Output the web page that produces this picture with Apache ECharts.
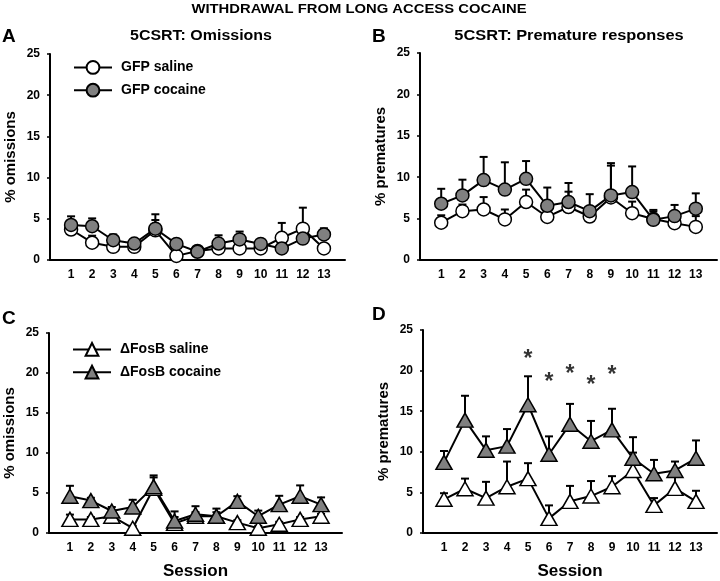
<!DOCTYPE html>
<html>
<head>
<meta charset="utf-8">
<script src="https://cdn.jsdelivr.net/npm/echarts@6/dist/echarts.min.js"></script>
<style>
html,body{margin:0;padding:0;background:#fff;}
#chart{width:720px;height:581px;}
</style>
</head>
<body>
<div id="chart"></div>
<script>
// ---- data ----
const sessions = [1,2,3,4,5,6,7,8,9,10,11,12,13];
const yTicks = [0,5,10,15,20,25];

// Panel A: omissions (GFP)
const gfpSalineOm     = [3.7,2.1,1.6,1.6,3.6,0.5,1.1,1.4,1.4,1.4,2.7,3.8,1.4];
const gfpSalineOmSem  = [0.4,0.85,0.3,0.3,1.25,0.3,0.2,0.3,0.3,0.3,1.8,2.55,0.3];
const gfpCocaineOm    = [4.25,4.1,2.4,2.0,3.8,1.95,1.0,2.0,2.5,1.95,1.4,2.6,3.1];
const gfpCocaineOmSem = [1.05,0.95,0.7,0.3,1.75,0.3,0.3,1.0,0.95,0.3,0.3,0.4,0.75];

// Panel B: premature responses (GFP)
const gfpSalinePr     = [4.5,5.9,6.1,4.9,7.0,5.2,6.4,5.25,7.55,5.65,4.95,4.45,4.0];
const gfpSalinePrSem  = [0.9,0.8,1.5,1.2,1.5,0.9,1.85,0.8,3.85,1.4,0.9,0.5,1.3];
const gfpCocainePr    = [6.8,7.8,9.65,8.5,9.8,6.55,7.0,5.9,7.8,8.2,4.85,5.3,6.2];
const gfpCocainePrSem = [1.8,1.9,2.8,3.3,2.15,2.2,2.3,2.05,3.9,3.1,1.2,1.35,1.85];

// Panel C: omissions (ΔFosB)
const fosSalineOm     = [1.7,1.7,2.1,0.6,5.6,1.2,2.1,2.1,1.3,0.6,1.1,1.7,2.1];
const fosSalineOmSem  = [0.6,0.3,0.3,0.3,1.35,0.8,0.5,0.5,0.3,0.3,0.3,0.3,0.3];
const fosCocaineOm    = [4.6,4.05,2.75,3.25,5.8,1.5,2.35,2.1,3.95,2.1,3.55,4.6,3.55];
const fosCocaineOmSem = [1.3,0.35,0.5,0.9,1.4,1.2,1.0,0.95,0.65,0.7,1.1,1.35,0.9];

// Panel D: premature responses (ΔFosB)
const fosSalinePr     = [4.15,5.45,4.3,5.7,6.7,1.8,3.9,4.55,5.7,7.7,3.4,5.5,3.9];
const fosSalinePrSem  = [0.75,1.25,2.0,3.1,1.9,1.6,1.9,1.85,1.3,2.2,0.9,2.0,1.3];
const fosCocainePr    = [8.7,13.9,10.2,10.7,15.8,9.7,13.4,11.3,12.7,9.2,7.3,7.7,9.2];
const fosCocainePrSem = [1.4,3.0,1.7,2.1,3.5,2.2,2.5,2.5,2.6,2.6,1.7,1.1,2.2];

// significance asterisks in panel D
const starSessions = [5,6,7,8,9];
const starY        = [22.1,19.3,20.2,18.9,20.1];

// ---- chart ----
const FONT = 'Arial, "Liberation Sans", sans-serif';
const GRAY = '#808080';

const grids = [
  {left:50,  top:54,  width:295, height:206},
  {left:420, top:53,  width:298, height:207},
  {left:49,  top:333, width:293, height:204},
  {left:423, top:330, width:295, height:207}
];
const yNames = ['% omissions','% prematures','% omissions','% prematures'];

function xAxisCfg(i){
  return {
    type:'value', gridIndex:i, min:0, max:14, interval:1,
    axisLine:{lineStyle:{color:'#000', width:2}},
    axisTick:{show:false},
    splitLine:{show:false},
    axisLabel:{fontFamily:FONT, fontWeight:'bold', fontSize:12, color:'#000', margin:9,
      formatter:v => sessions.includes(v) ? String(v) : ''},
    name: i >= 2 ? 'Session' : '',
    nameLocation:'middle', nameGap:30,
    nameTextStyle:{fontFamily:FONT, fontWeight:'bold', fontSize:17, color:'#000'}
  };
}
function yAxisCfg(i){
  return {
    type:'value', gridIndex:i, min:yTicks[0], max:yTicks[yTicks.length-1], interval:5,
    axisLine:{show:true, lineStyle:{color:'#000', width:2}},
    axisTick:{show:true, length:3, lineStyle:{color:'#000', width:1.5}},
    splitLine:{show:false},
    axisLabel:{fontFamily:FONT, fontWeight:'bold', fontSize:12, color:'#000', margin:10},
    name:yNames[i], nameLocation:'middle', nameGap:32,
    nameTextStyle:{fontFamily:FONT, fontWeight:'bold', fontSize:15, color:'#000'}
  };
}

function errRender(params, api){
  const x = api.value(0), m = api.value(1), e = api.value(2);
  const p0 = api.coord([x, m]), p1 = api.coord([x, m + e]);
  const hw = 4;
  return {type:'group', children:[
    {type:'line', shape:{x1:p0[0], y1:p0[1], x2:p1[0], y2:p1[1]}, style:{stroke:'#000', lineWidth:2}},
    {type:'line', shape:{x1:p1[0]-hw, y1:p1[1], x2:p1[0]+hw, y2:p1[1]}, style:{stroke:'#000', lineWidth:2}}
  ]};
}

function pts(vals){ return sessions.map((s,i)=>[s, vals[i]]); }
function errPts(vals, sem){ return sessions.map((s,i)=>[s, vals[i], sem[i]]); }

const series = [];
function addGroup(gi, name, vals, sem, symbol, fill){
  series.push({
    type:'custom', name:name+' err', xAxisIndex:gi, yAxisIndex:gi, z:1,
    renderItem:errRender, data:errPts(vals, sem), encode:{x:0, y:1}, silent:true
  });
  series.push({
    type:'line', name:name, xAxisIndex:gi, yAxisIndex:gi, z:3,
    data:pts(vals), symbol:symbol,
    symbolSize: symbol === 'circle' ? 13 : [16,14],
    showAllSymbol:true,
    lineStyle:{color:'#000', width:2},
    itemStyle:{color:fill, borderColor:'#000', borderWidth:1.5},
    emphasis:{disabled:true}, animation:false
  });
}
addGroup(0,'GFP saline', gfpSalineOm, gfpSalineOmSem, 'circle', '#fff');
addGroup(0,'GFP cocaine', gfpCocaineOm, gfpCocaineOmSem, 'circle', GRAY);
addGroup(1,'GFP saline', gfpSalinePr, gfpSalinePrSem, 'circle', '#fff');
addGroup(1,'GFP cocaine', gfpCocainePr, gfpCocainePrSem, 'circle', GRAY);
addGroup(2,'ΔFosB saline', fosSalineOm, fosSalineOmSem, 'triangle', '#fff');
addGroup(2,'ΔFosB cocaine', fosCocaineOm, fosCocaineOmSem, 'triangle', GRAY);
addGroup(3,'ΔFosB saline', fosSalinePr, fosSalinePrSem, 'triangle', '#fff');
addGroup(3,'ΔFosB cocaine', fosCocainePr, fosCocainePrSem, 'triangle', GRAY);

series.push({
  type:'scatter', name:'sig', xAxisIndex:3, yAxisIndex:3, symbolSize:1,
  itemStyle:{color:'rgba(0,0,0,0)'},
  data:starSessions.map((s,i)=>[s, starY[i]]),
  label:{show:true, position:'inside', formatter:'*', offset:[0,6],
    fontFamily:FONT, fontWeight:'bold', fontSize:23, color:'#000'},
  silent:true
});

const legendBase = {
  orient:'vertical', itemWidth:38, itemHeight:16, itemGap:8,
  selectedMode:false,
  textStyle:{fontFamily:FONT, fontWeight:'bold', fontSize:14, color:'#000', padding:[0,0,0,4]}
};

function txt(x, y, text, font, sx){
  return {type:'text', x:x, y:y, scaleX:sx || 1, silent:true,
    style:{text:text, x:0, y:0, font:font, fill:'#000', textAlign:'center', textVerticalAlign:'middle'}};
}

const option = {
  animation:false,
  backgroundColor:'#fff',
  grid:grids,
  xAxis:[0,1,2,3].map(xAxisCfg),
  yAxis:[0,1,2,3].map(yAxisCfg),
  legend:[
    Object.assign({}, legendBase, {left:68, top:55, data:['GFP saline','GFP cocaine']}),
    Object.assign({}, legendBase, {left:67, top:337, data:['ΔFosB saline','ΔFosB cocaine']})
  ],
  series:series,
  graphic:[
    txt(359, 9, 'WITHDRAWAL FROM LONG ACCESS COCAINE', 'bold 13px ' + FONT, 1.14),
    txt(201, 36, '5CSRT: Omissions', 'bold 14px ' + FONT, 1.14),
    txt(569, 36, '5CSRT: Premature responses', 'bold 14px ' + FONT, 1.17),
    {type:'text', left:2, top:27, silent:true, style:{text:'A', font:'bold 19px ' + FONT, fill:'#000'}},
    {type:'text', left:372, top:27, silent:true, style:{text:'B', font:'bold 19px ' + FONT, fill:'#000'}},
    {type:'text', left:2, top:309, silent:true, style:{text:'C', font:'bold 19px ' + FONT, fill:'#000'}},
    {type:'text', left:372, top:305, silent:true, style:{text:'D', font:'bold 19px ' + FONT, fill:'#000'}}
  ]
};

const chart = echarts.init(document.getElementById('chart'), null, {renderer:'canvas'});
chart.setOption(option);
</script>
</body>
</html>
